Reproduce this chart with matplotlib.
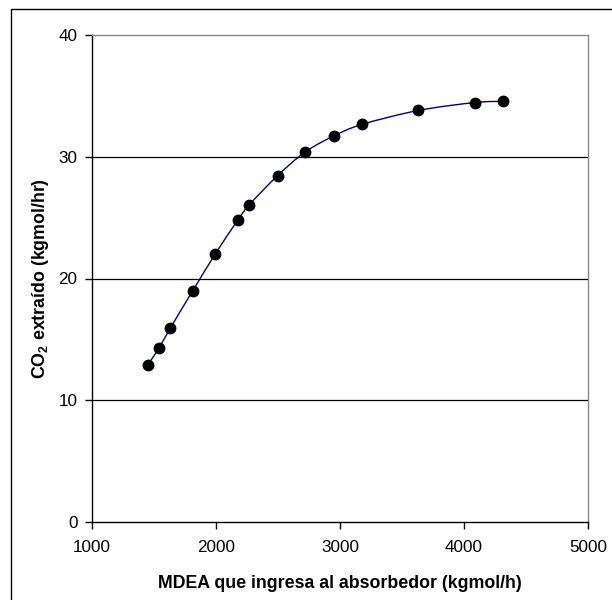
import numpy as np
import matplotlib.pyplot as plt
from matplotlib.path import Path
from matplotlib.patches import PathPatch, Rectangle

# %% Data
mdea = [1449, 1541, 1630, 1813, 1993, 2176, 2268, 2497, 2720, 2949, 3175, 3630, 4085, 4311]
co2 = [12.9, 14.3, 15.9, 19.0, 22.0, 24.8, 26.05, 28.45, 30.4, 31.7, 32.65, 33.8, 34.45, 34.55]

x_ticks = [1000, 2000, 3000, 4000, 5000]
y_ticks = [0, 10, 20, 30, 40]
x_label = "MDEA que ingresa al absorbedor (kgmol/h)"
y_label = "CO$_\\mathbf{2}$ extraído (kgmol/hr)"

# %% Style
plt.rcParams['font.family'] = ['Liberation Sans', 'DejaVu Sans']
plt.rcParams['mathtext.fontset'] = 'custom'
plt.rcParams['mathtext.rm'] = 'Liberation Sans'
plt.rcParams['mathtext.bf'] = 'Liberation Sans:bold'

fig = plt.figure(figsize=(6.12, 6.0), dpi=100)
ax = fig.add_axes([92/612, 78/600, 496/612, 487/600])

# outer chart border (runs off the right and bottom edges)
fig.patches.append(Rectangle((11/612, -0.1), 1.2, 0.1 + 591/600, transform=fig.transFigure,
                             fill=False, edgecolor='black', linewidth=1.0))

# smoothed line (Excel style bezier through the points)
pts = np.column_stack((mdea, co2)).astype(float)
n = len(pts)
verts = [pts[0]]
codes = [Path.MOVETO]
for i in range(n - 1):
    p0 = pts[max(i - 1, 0)]
    p1 = pts[i]
    p2 = pts[i + 1]
    p3 = pts[min(i + 2, n - 1)]
    c1 = p1 + (p2 - p0) / 6
    c2 = p2 - (p3 - p1) / 6
    verts += [c1, c2, p2]
    codes += [Path.CURVE4] * 3
ax.add_patch(PathPatch(Path(verts, codes), facecolor='none', edgecolor='#000080', lw=1.0, zorder=3))

ax.plot(mdea, co2, linestyle='none', marker='o', ms=7.5, color='black', zorder=4)

ax.set_xlim(1000, 5000)
ax.set_ylim(0, 40)
ax.set_xticks(x_ticks)
ax.set_yticks(y_ticks)
ax.tick_params(direction='out', length=5, width=1, labelsize=12.3, color='black')
ax.tick_params(axis='x', pad=8)
ax.tick_params(axis='y', pad=5.5)

for v in y_ticks[1:-1]:
    ax.axhline(v, color='black', lw=0.9, zorder=1)

ax.spines['top'].set_color('#888888')
ax.spines['right'].set_color('#888888')
ax.spines['left'].set_color('black')
ax.spines['bottom'].set_color('black')
for s in ax.spines.values():
    s.set_linewidth(1.0)

ax.set_xlabel(x_label, fontsize=12.8, fontweight='bold', labelpad=14)
ax.set_ylabel(y_label, fontsize=12.8, fontweight='bold', labelpad=5)

fig.savefig("out.png", dpi=100)
